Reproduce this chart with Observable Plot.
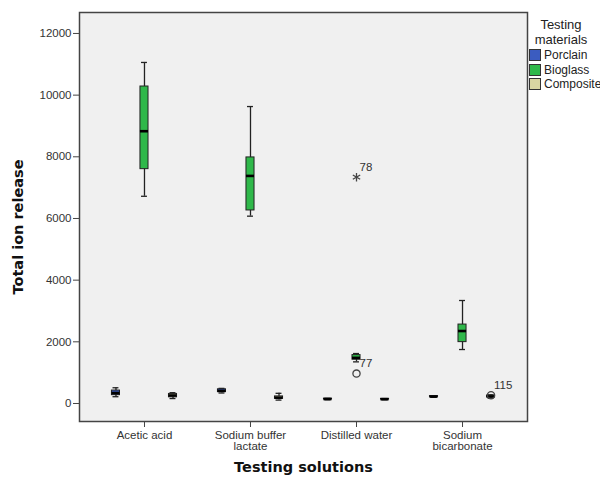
<!DOCTYPE html>
<html>
<head>
<meta charset="utf-8">
<script src="https://cdn.jsdelivr.net/npm/d3@7"></script>
<script src="https://cdn.jsdelivr.net/npm/@observablehq/plot@0.6"></script>
<style>
  html, body { margin: 0; padding: 0; background: #fff; }
  #wrap { position: relative; width: 600px; height: 477px; font-family: "Liberation Sans", Arial, sans-serif; }
  #legend { position: absolute; left: 529px; top: 17px; width: 71px; color: #222; overflow: hidden; }
  #legend .title { font-size: 13px; line-height: 15px; text-align: center; width: 62px; margin-left: 1px; }
  #legend .item { display: flex; align-items: center; font-size: 12px; height: 14.5px; white-space: nowrap; }
  #legend .sw { width: 10px; height: 10px; border: 1px solid #333; margin-right: 3px; flex: none; }
</style>
</head>
<body>
<div id="wrap"><div id="legend"></div></div>
<script>
// ---- data ----
const solutions = ["Acetic acid", "Sodium buffer\nlactate", "Distilled water", "Sodium\nbicarbonate"];
const materials = ["Porclain", "Bioglass", "Composite"];
const colors = ["#3b5cc0", "#2fb84a", "#d9d6a2"];

// box statistics per material, one value per solution
const porclainMin = [220, 340, 120, 200];
const porclainQ1  = [270, 370, 135, 215];
const porclainMed = [340, 410, 145, 225];
const porclainQ3  = [420, 460, 155, 240];
const porclainMax = [510, 490, 165, 250];

const bioglassMin = [6720, 6075, 1350, 1750];
const bioglassQ1  = [7600, 6260, 1420, 1990];
const bioglassMed = [8830, 7380, 1480, 2350];
const bioglassQ3  = [10280, 7980, 1570, 2560];
const bioglassMax = [11060, 9630, 1620, 3340];

const compositeMin = [160, 110, 120, 170];
const compositeQ1  = [200, 150, 130, 200];
const compositeMed = [260, 190, 140, 230];
const compositeQ3  = [310, 230, 150, 260];
const compositeMax = [350, 330, 160, 280];

// outliers
const outlierSolution = ["Distilled water", "Distilled water", "Sodium\nbicarbonate"];
const outlierMaterial = ["Bioglass", "Bioglass", "Composite"];
const outlierValue    = [7340, 970, 270];
const outlierKind     = ["extreme", "outlier", "outlier"];
const outlierLabel    = ["78", "77", "115"];

const yTicks = [0, 2000, 4000, 6000, 8000, 10000, 12000];

// ---- build table ----
const stats = [
  [porclainMin, porclainQ1, porclainMed, porclainQ3, porclainMax],
  [bioglassMin, bioglassQ1, bioglassMed, bioglassQ3, bioglassMax],
  [compositeMin, compositeQ1, compositeMed, compositeQ3, compositeMax]
];
const offset = [-0.269, 0, 0.269];
const hw = 0.038;   // half box width (x units)
const cw = 0.028;   // half cap width
const boxes = [];
materials.forEach((m, mi) => {
  solutions.forEach((s, si) => {
    const [mn, q1, md, q3, mx] = stats[mi].map(a => a[si]);
    boxes.push({solution: s, material: m, pos: si + offset[mi], min: mn, q1, med: md, q3, max: mx, color: colors[mi]});
  });
});
const outliers = outlierValue.map((v, i) => ({
  pos: solutions.indexOf(outlierSolution[i]) + offset[materials.indexOf(outlierMaterial[i])],
  value: v, kind: outlierKind[i], label: outlierLabel[i]
}));

const font = "Liberation Sans, Arial, sans-serif";
const titleFont = "DejaVu Sans, Verdana, sans-serif";

const chart = Plot.plot({
  width: 600,
  height: 477,
  marginLeft: 79,
  marginRight: 73,
  marginTop: 12,
  marginBottom: 56,
  style: {fontFamily: font, fontSize: "11px", color: "#333", background: "transparent"},
  x: {domain: [-0.613, 3.613]},
  y: {domain: [-584, 12680]},
  marks: [
    Plot.frame({fill: "#f0f0f0", stroke: null}),
    Plot.axisY({ticks: yTicks, tickSize: 6, tickPadding: 2, tickFormat: d => String(d), label: null, fontSize: 11.5, stroke: "#444", fill: "#333"}),
    Plot.axisX({ticks: [0, 1, 2, 3], tickSize: 6, tickPadding: 3, tickFormat: i => solutions[i], label: null, fontSize: 11.5, stroke: "#444", fill: "#333", lineHeight: 1.0}),
    // whiskers
    Plot.ruleX(boxes, {x: "pos", y1: "min", y2: "max", stroke: "#222", strokeWidth: 1.3}),
    Plot.ruleY(boxes, {y: "min", x1: d => d.pos - cw, x2: d => d.pos + cw, stroke: "#222", strokeWidth: 1.3}),
    Plot.ruleY(boxes, {y: "max", x1: d => d.pos - cw, x2: d => d.pos + cw, stroke: "#222", strokeWidth: 1.3}),
    // boxes
    Plot.rect(boxes, {x1: d => d.pos - hw, x2: d => d.pos + hw, y1: "q1", y2: "q3", fill: "color", stroke: "#222", strokeWidth: 1}),
    // medians
    Plot.ruleY(boxes, {y: "med", x1: d => d.pos - hw, x2: d => d.pos + hw, stroke: "#000", strokeWidth: 2.6}),
    // outliers
    Plot.dot(outliers.filter(d => d.kind === "outlier"), {x: "pos", y: "value", r: 3.6, stroke: "#444", strokeWidth: 1.3, fill: "none"}),
    Plot.dot(outliers.filter(d => d.kind === "extreme"), {x: "pos", y: "value", symbol: "asterisk", r: 4, stroke: "#444", strokeWidth: 1.3}),
    Plot.text(outliers, {x: "pos", y: "value", text: "label", dx: 3, dy: -10, textAnchor: "start", fontSize: 11.5, fill: "#333"}),
    // frame
    Plot.frame({stroke: "#444", strokeWidth: 1.5}),
    // axis titles
    Plot.text(["Total ion release"], {frameAnchor: "left", dx: -61, dy: 10, rotate: -90, textAnchor: "middle", lineAnchor: "middle", fontFamily: titleFont, fontWeight: "bold", fontSize: 14.5, fill: "#111"}),
    Plot.text(["Testing solutions"], {frameAnchor: "bottom", dy: 46, textAnchor: "middle", lineAnchor: "middle", fontFamily: titleFont, fontWeight: "bold", fontSize: 14.5, fill: "#111"})
  ]
});
document.getElementById("wrap").prepend(chart);

// legend
const legend = document.getElementById("legend");
const t = document.createElement("div");
t.className = "title";
t.innerHTML = "Testing<br>materials";
legend.appendChild(t);
const spacer = document.createElement("div");
spacer.style.height = "1px";
legend.appendChild(spacer);
materials.forEach((m, i) => {
  const it = document.createElement("div");
  it.className = "item";
  const sw = document.createElement("span");
  sw.className = "sw";
  sw.style.background = colors[i];
  it.appendChild(sw);
  it.appendChild(document.createTextNode(m));
  legend.appendChild(it);
});
</script>
</body>
</html>
